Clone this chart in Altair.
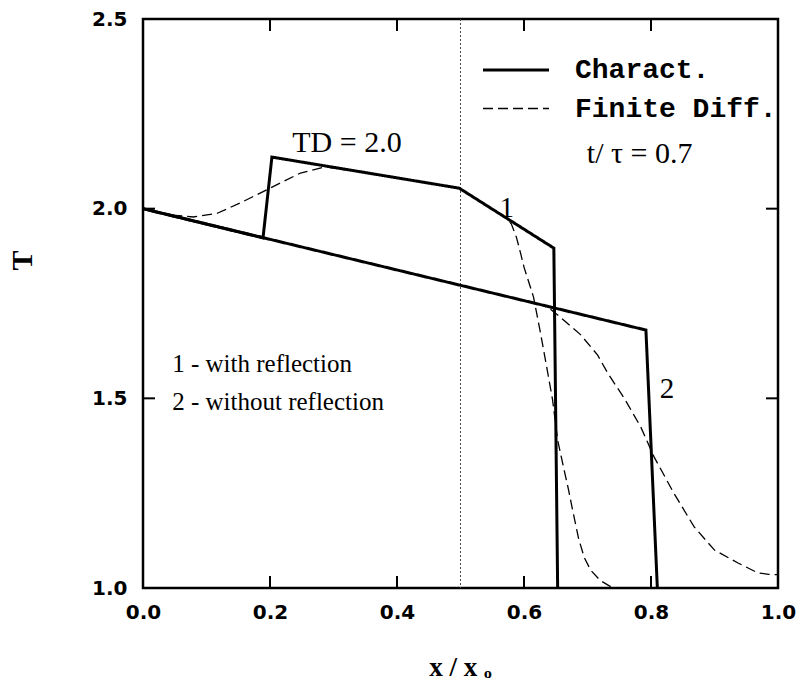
import altair as alt
import pandas as pd

# ---- data ----
# Method of characteristics, curve 1 (with reflection)
c1_x = [0.0, 0.189, 0.203, 0.498, 0.647, 0.653]
c1_y = [2.0, 1.923, 2.136, 2.054, 1.896, 1.0]
# Method of characteristics, curve 2 (without reflection)
c2_x = [0.0, 0.792, 0.810]
c2_y = [2.0, 1.680, 1.0]
# Finite differences, curve 1
fd1_x = [0.0, 0.04, 0.079, 0.117, 0.153, 0.2, 0.248, 0.287, 0.35, 0.498, 0.56,
         0.572, 0.58, 0.588, 0.595, 0.6, 0.615, 0.626, 0.636, 0.645, 0.653,
         0.662, 0.670, 0.676, 0.686, 0.695, 0.705, 0.72, 0.735, 0.745]
fd1_y = [2.0, 1.984, 1.978, 1.988, 2.015, 2.054, 2.094, 2.11, 2.095, 2.054, 1.988,
         1.975, 1.96, 1.925, 1.88, 1.846, 1.767, 1.672, 1.58, 1.496, 1.39,
         1.32, 1.26, 1.21, 1.13, 1.08, 1.047, 1.02, 1.005, 1.0]
# Finite differences, curve 2
fd2_x = [0.0, 0.6, 0.625, 0.64, 0.653, 0.67, 0.689, 0.716, 0.732, 0.758, 0.784,
         0.805, 0.836, 0.868, 0.9, 0.937, 0.968, 0.985, 1.0]
fd2_y = [2.0, 1.758, 1.748, 1.737, 1.72, 1.695, 1.668, 1.614, 1.566, 1.50, 1.424,
         1.345, 1.25, 1.161, 1.10, 1.066, 1.04, 1.036, 1.035]

methods = ["Charact.", "Finite Diff."]
x_tick_values = [0.0, 0.2, 0.4, 0.6, 0.8, 1.0]
y_tick_values = [1.0, 1.5, 2.0, 2.5]
inner_x_ticks = [0.2, 0.4, 0.6, 0.8]
inner_y_ticks = [1.5, 2.0]
mid_line = [0.5]

big_text = ["TD = 2.0", "t/ \u03c4 = 0.7"]
big_text_x = [0.235, 0.699]
big_text_y = [2.149, 2.120]
num_text = ["1", "2"]
num_text_x = [0.573, 0.825]
num_text_y = [1.978, 1.501]
note_text = ["1 - with reflection", "2 - without reflection"]
note_text_x = [0.046, 0.046]
note_text_y = [1.569, 1.469]

# ---- tables ----
rows = []
for name, method, xs, ys in [("c1", methods[0], c1_x, c1_y),
                             ("c2", methods[0], c2_x, c2_y),
                             ("fd1", methods[1], fd1_x, fd1_y),
                             ("fd2", methods[1], fd2_x, fd2_y)]:
    for i, (a, b) in enumerate(zip(xs, ys)):
        rows.append({"x": a, "y": b, "curve": name, "method": method, "order": i})
df = pd.DataFrame(rows)

W, H = 635, 569
xscale = alt.Scale(domain=[0, 1], nice=False, zero=False)
yscale = alt.Scale(domain=[1.0, 2.5], nice=False, zero=False)

legend = alt.Legend(title=None, orient="none", legendX=355, legendY=33,
                    symbolType="M-2,0H2", symbolSize=1089, symbolStrokeColor="black",
                    labelFont="Liberation Mono", labelFontWeight="bold",
                    labelFontSize=28, labelColor="black", labelOffset=41,
                    labelLimit=0, rowPadding=7, padding=0)

lines = alt.Chart(df).mark_line(color="black").encode(
    x=alt.X("x:Q", scale=xscale, axis=alt.Axis(
        values=x_tick_values, format=".1f", ticks=False, domain=False, grid=False,
        labelPadding=14, labelFont="DejaVu Sans", labelFontWeight="bold",
        labelFontSize=20, labelColor="black", labelFlush=False,
        title="x / x \u2092", titleFont="Liberation Serif", titleFontWeight="bold",
        titleFontSize=27, titleColor="black", titleX=317, titleY=87,
        titleBaseline="alphabetic", titleAlign="center")),
    y=alt.Y("y:Q", scale=yscale, axis=alt.Axis(
        values=y_tick_values, format=".1f", ticks=False, domain=False, grid=False,
        labelPadding=16, labelFont="DejaVu Sans", labelFontWeight="bold",
        labelFontSize=20, labelColor="black",
        title="T", titleFont="Liberation Serif", titleFontWeight="bold",
        titleFontSize=30, titleColor="black", titleAngle=270, titleX=-121,
        titleY=241, titleAlign="center", titleBaseline="middle")),
    detail="curve:N",
    order="order:Q",
    strokeDash=alt.StrokeDash("method:N", scale=alt.Scale(domain=methods, range=[[1, 0], [10, 5]]), legend=legend),
    strokeWidth=alt.StrokeWidth("method:N", scale=alt.Scale(domain=methods, range=[3, 1.3]), legend=legend),
)

mid = alt.Chart(pd.DataFrame({"x": mid_line})).mark_rule(
    color="#444444", strokeWidth=1, strokeDash=[2, 2]).encode(x="x:Q")

xt = pd.DataFrame({"x": inner_x_ticks})
yt = pd.DataFrame({"y": inner_y_ticks})
tick_top = alt.Chart(xt).mark_rule(color="black", strokeWidth=2).encode(
    x="x:Q", y=alt.value(0), y2=alt.value(12))
tick_bottom = alt.Chart(xt).mark_rule(color="black", strokeWidth=2).encode(
    x="x:Q", y=alt.value(H), y2=alt.value(H - 12))
tick_left = alt.Chart(yt).mark_rule(color="black", strokeWidth=2).encode(
    y="y:Q", x=alt.value(0), x2=alt.value(12))
tick_right = alt.Chart(yt).mark_rule(color="black", strokeWidth=2).encode(
    y="y:Q", x=alt.value(W), x2=alt.value(W - 12))

t_big = alt.Chart(pd.DataFrame({"x": big_text_x, "y": big_text_y, "t": big_text})).mark_text(
    font="Liberation Serif", fontSize=30, align="left", baseline="alphabetic", color="black"
).encode(x="x:Q", y="y:Q", text="t:N")
t_num = alt.Chart(pd.DataFrame({"x": num_text_x, "y": num_text_y, "t": num_text})).mark_text(
    font="Liberation Serif", fontSize=29, align="center", baseline="alphabetic", color="black"
).encode(x="x:Q", y="y:Q", text="t:N")
t_note = alt.Chart(pd.DataFrame({"x": note_text_x, "y": note_text_y, "t": note_text})).mark_text(
    font="Liberation Serif", fontSize=25, align="left", baseline="alphabetic", color="black"
).encode(x="x:Q", y="y:Q", text="t:N")

chart = alt.layer(mid, lines, tick_top, tick_bottom, tick_left, tick_right,
                  t_big, t_num, t_note).properties(
    width=W, height=H,
    autosize=alt.AutoSizeParams(type="none"),
    padding={"left": 143, "top": 19, "right": 24, "bottom": 95},
    background="white",
).configure_view(stroke="black", strokeWidth=2.5)

chart.save("out.html", embed_options={"renderer": "svg", "actions": False})
